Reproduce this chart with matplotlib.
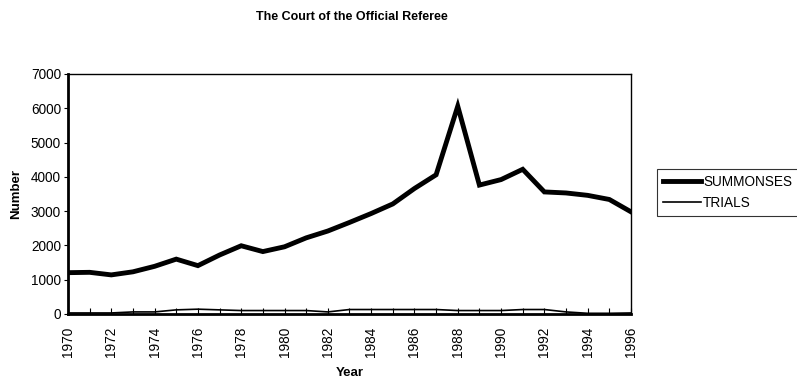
import matplotlib.pyplot as plt

plt.rcParams['font.family'] = ['Liberation Sans', 'DejaVu Sans']

# データ
years = list(range(1970, 1997))
summonses = [1205, 1215, 1140, 1230, 1390, 1600, 1410, 1720, 1990, 1820, 1960, 2220, 2420,
             2670, 2930, 3210, 3660, 4060, 6060, 3760, 3920, 4220, 3560, 3530, 3460, 3340, 2980]
trials = [30, 30, 30, 60, 60, 120, 140, 120, 100, 100, 100, 100, 60,
          130, 130, 130, 130, 130, 100, 100, 100, 130, 130, 60, 20, 20, 30]

fig = plt.figure(figsize=(7.97, 3.81), dpi=100)
ax = fig.add_axes([0.0853, 0.1759, 0.7064, 0.6299])

ax.plot(years, summonses, color='black', lw=3.5, label='SUMMONSES', solid_joinstyle='miter')
ax.plot(years, trials, color='black', lw=1.2, label='TRIALS')

ax.set_xlim(1970, 1996)
ax.set_ylim(0, 7000)
ax.set_xticks(years)
ax.set_xticklabels([str(y) if y % 2 == 0 else '' for y in years], rotation=90, fontsize=9.8)
ax.set_yticks(range(0, 7001, 1000))
ax.tick_params(axis='y', labelsize=9.8, length=3, direction='out', pad=2)
ax.tick_params(axis='x', length=4, direction='in', pad=9)
for s in ax.spines.values():
    s.set_linewidth(1.0)
ax.spines['left'].set_linewidth(2.0)
ax.spines['bottom'].set_linewidth(2.0)

ax.set_xlabel('Year', fontsize=9.5, fontweight='bold', labelpad=7)
ax.set_ylabel('Number', fontsize=9.5, fontweight='bold', labelpad=6)
fig.suptitle('The Court of the Official Referee', fontsize=9, fontweight='bold', x=0.441, y=0.970)

leg = ax.legend(loc='upper left', bbox_to_anchor=(0.824, 0.557), bbox_transform=fig.transFigure,
                fontsize=9.8, frameon=True, fancybox=False, edgecolor='black',
                handlelength=2.8, handletextpad=0.15, borderpad=0.45, labelspacing=0.5,
                borderaxespad=0)
leg.get_frame().set_linewidth(0.8)

fig.savefig('out.png', dpi=100)
